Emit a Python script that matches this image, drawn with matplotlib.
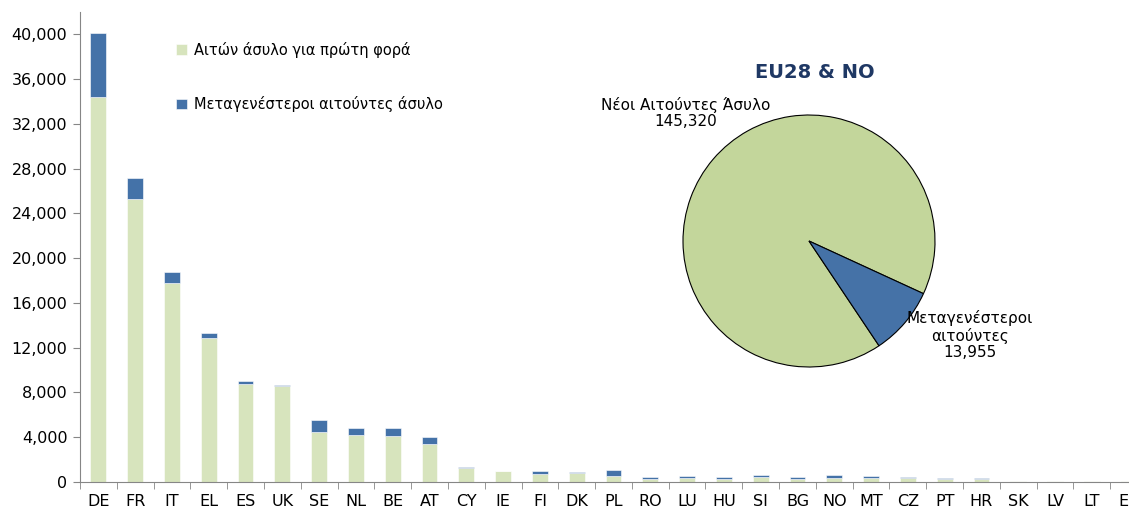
import matplotlib.pyplot as plt
import numpy as np

countries = ['DE', 'FR', 'IT', 'EL', 'ES', 'UK', 'SE', 'NL', 'BE', 'AT', 'CY', 'IE', 'FI', 'DK', 'PL',
             'RO', 'LU', 'HU', 'SI', 'BG', 'NO', 'MT', 'CZ', 'PT', 'HR', 'SK', 'LV', 'LT', 'EE']
first_time = [34380, 25270, 17770, 12860, 8750, 8570, 4460, 4200, 4100, 3390, 1250, 980, 710, 800, 540,
              300, 360, 310, 480, 300, 400, 400, 320, 250, 250, 50, 70, 50, 80]
subsequent = [5770, 1870, 980, 440, 270, 90, 1080, 620, 720, 630, 90, 0, 270, 90, 530,
              150, 180, 140, 120, 150, 220, 150, 150, 80, 80, 80, 0, 80, 0]

pie_labels = ['Νέοι Αιτούντες Άσυλο', 'Μεταγενέστεροι\nαιτούντες']
pie_values = [145320, 13955]

legend_labels = ['Αιτών άσυλο για πρώτη φορά', 'Μεταγενέστεροι αιτούντες άσυλο']

bar_green = '#D7E4BD'
bar_blue = '#4472A8'
pie_green = '#C3D69B'
pie_blue = '#4572A7'
grey = '#868686'

fig = plt.figure(figsize=(11.29, 5.08), dpi=100)

# bar chart (runs a bit past the right edge, like the original)
ax = fig.add_axes([80 / 1129, 26 / 508, 1067 / 1129, 470 / 508])
x = np.arange(len(countries))
b1 = ax.bar(x, first_time, width=0.43, color=bar_green, edgecolor='white', linewidth=0.4,
            label=legend_labels[0])
b2 = ax.bar(x, subsequent, width=0.43, bottom=first_time, color=bar_blue, edgecolor='white',
            linewidth=0.4, label=legend_labels[1])

ax.set_xlim(-0.5, len(countries) - 0.5)
ax.set_ylim(0, 42000)
ax.set_yticks(np.arange(0, 40001, 4000))
ax.set_yticklabels([f'{v:,}' for v in range(0, 40001, 4000)], fontsize=11.5)
ax.set_xticks(x)
ax.set_xticklabels(countries, fontsize=11.5)
ax.set_xticks(np.arange(len(countries) + 1) - 0.5, minor=True)
ax.tick_params(axis='x', which='major', length=0, pad=9)
ax.tick_params(axis='x', which='minor', length=5, color=grey)
ax.tick_params(axis='y', length=5, color=grey, pad=4)
for s in ['top', 'right']:
    ax.spines[s].set_visible(False)
for s in ['left', 'bottom']:
    ax.spines[s].set_color(grey)

ax.legend(handles=[b1, b2], loc='upper left', bbox_to_anchor=(0.078, 0.965), frameon=False,
          fontsize=10.5, handlelength=0.7, handleheight=0.7, handletextpad=0.5, labelspacing=2.65)

# pie chart
pax = fig.add_axes([(809 - 126) / 1129, (508 - 241 - 126) / 508, 252 / 1129, 252 / 508])
pax.pie(pie_values, colors=[pie_green, pie_blue], startangle=-24.7, counterclock=True,
        wedgeprops=dict(edgecolor='black', linewidth=0.8))
pax.set_xlim(-1, 1)
pax.set_ylim(-1, 1)
pax.set_aspect('equal')

fig.text(815 / 1129, 1 - 72 / 508, 'EU28 & NO', ha='center', va='center', fontsize=14,
         fontweight='bold', color='#1F3864')
fig.text(686 / 1129, 1 - 113 / 508, f'{pie_labels[0]}\n{pie_values[0]:,}', ha='center',
         va='center', fontsize=11, linespacing=1.1)
fig.text(970 / 1129, 1 - 335 / 508, f'{pie_labels[1]}\n{pie_values[1]:,}', ha='center',
         va='center', fontsize=11, linespacing=1.1)

fig.savefig('out.png', dpi=100)
